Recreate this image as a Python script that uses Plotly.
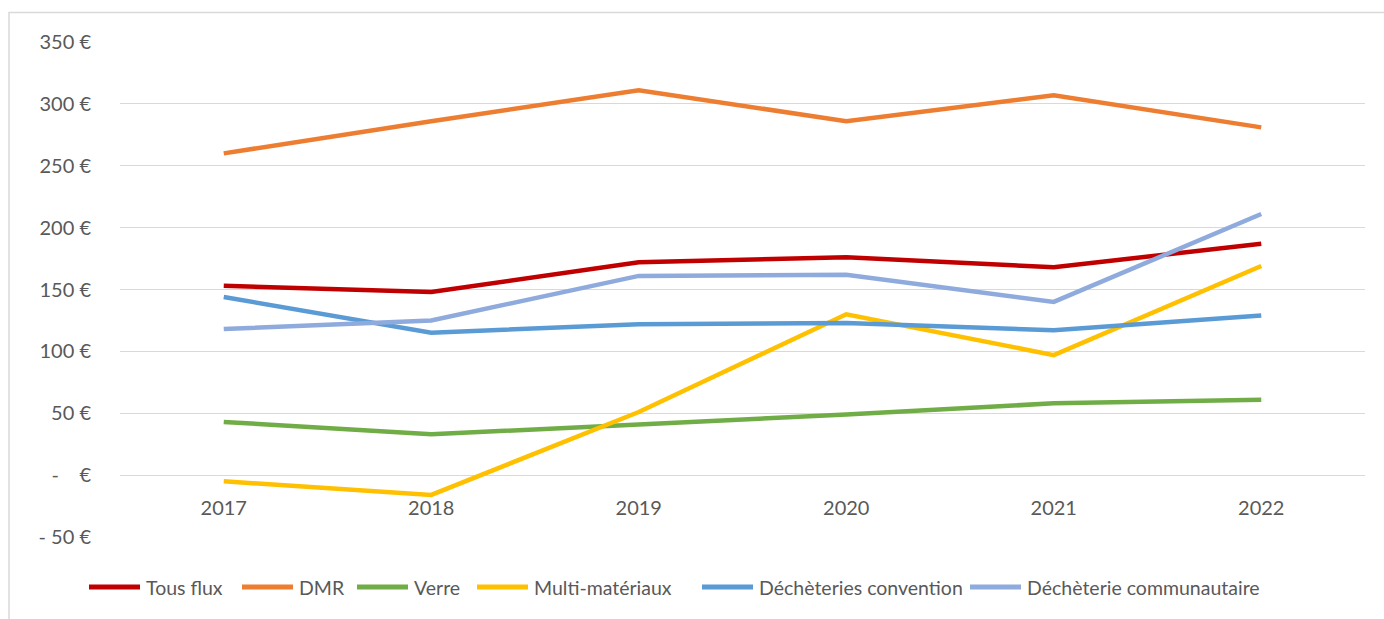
import plotly.graph_objects as go

# Années et coûts par flux (€)
years = ["2017", "2018", "2019", "2020", "2021", "2022"]
tous_flux = [153, 148, 172, 176, 168, 187]
dmr = [260, 286, 311, 286, 307, 281]
verre = [43, 33, 41, 49, 58, 61]
multi_materiaux = [-5, -16, 51, 130, 97, 169]
decheteries_convention = [144, 115, 122, 123, 117, 129]
decheterie_communautaire = [118, 125, 161, 162, 140, 211]

y_tickvals = [-50, 0, 50, 100, 150, 200, 250, 300, 350]
y_ticktext = ["- 50 €", "-\u00a0\u00a0\u00a0\u00a0€", "50 €", "100 €", "150 €",
              "200 €", "250 €", "300 €", "350 €"]

series = [
    ("Tous flux", tous_flux, "#C00000"),
    ("DMR", dmr, "#ED7D31"),
    ("Verre", verre, "#70AD47"),
    ("Multi-matériaux", multi_materiaux, "#FFC000"),
    ("Déchèteries convention", decheteries_convention, "#5B9BD5"),
    ("Déchèterie communautaire", decheterie_communautaire, "#8FAADC"),
]

FONT = "Lato, 'Open Sans', sans-serif"
FS = 20
LEGEND_FS = 19.5
TEXT = "#595959"
GRID = "#D9D9D9"

W, H = 1384, 619
ML, MR, MT, MB = 120, 19, 42, 82
PW, PH = W - ML - MR, H - MT - MB


def px_to_paper_x(px):
    return (px - ML) / PW


def px_to_paper_y(py):
    return (H - MB - py) / PH


fig = go.Figure()
for name, vals, color in series:
    fig.add_trace(go.Scatter(
        x=years, y=vals, name=name, mode="lines",
        line=dict(color=color, width=4.5), showlegend=False,
    ))

# Legend drawn as line swatches + labels along the bottom
legend_swatch_start = [87, 240, 355, 475, 700, 968]
legend_y = px_to_paper_y(587)
shapes = []
annotations = []
for (name, _, color), sx in zip(series, legend_swatch_start):
    shapes.append(dict(
        type="line", xref="paper", yref="paper",
        x0=px_to_paper_x(sx + 2), x1=px_to_paper_x(sx + 53),
        y0=legend_y, y1=legend_y,
        line=dict(color=color, width=5),
    ))
    annotations.append(dict(
        xref="paper", yref="paper", x=px_to_paper_x(sx + 57), y=legend_y,
        xanchor="left", yanchor="middle", showarrow=False, text=name,
        font=dict(family=FONT, size=LEGEND_FS, color=TEXT),
    ))

# Chart-area border
shapes.append(dict(
    type="rect", xref="paper", yref="paper",
    x0=px_to_paper_x(9), x1=1.1, y0=-0.3, y1=px_to_paper_y(12.5),
    line=dict(color=GRID, width=1.5), fillcolor="rgba(0,0,0,0)", layer="below",
))

Y_MIN, Y_MAX = -50, 350
zero_pos = (0 - Y_MIN) / (Y_MAX - Y_MIN)

fig.update_layout(
    width=W, height=H,
    margin=dict(l=ML, r=MR, t=MT, b=MB),
    paper_bgcolor="white", plot_bgcolor="white",
    font=dict(family=FONT, size=FS, color=TEXT),
    showlegend=False,
    xaxis=dict(
        type="category", range=[-0.5, 5.5],
        showgrid=False, showline=False, zeroline=False,
        anchor="free", position=zero_pos,
        ticks="", ticklabelstandoff=19,
        tickfont=dict(family=FONT, size=FS, color=TEXT),
    ),
    yaxis=dict(
        range=[Y_MIN, Y_MAX],
        tickvals=y_tickvals, ticktext=y_ticktext,
        showgrid=True, gridcolor=GRID, gridwidth=1.3,
        zeroline=True, zerolinecolor=GRID, zerolinewidth=1.3,
        showline=False, ticks="", ticklabelstandoff=28,
        tickfont=dict(family=FONT, size=FS, color=TEXT),
    ),
    shapes=shapes,
    annotations=annotations,
)

fig.write_html("out.html")
